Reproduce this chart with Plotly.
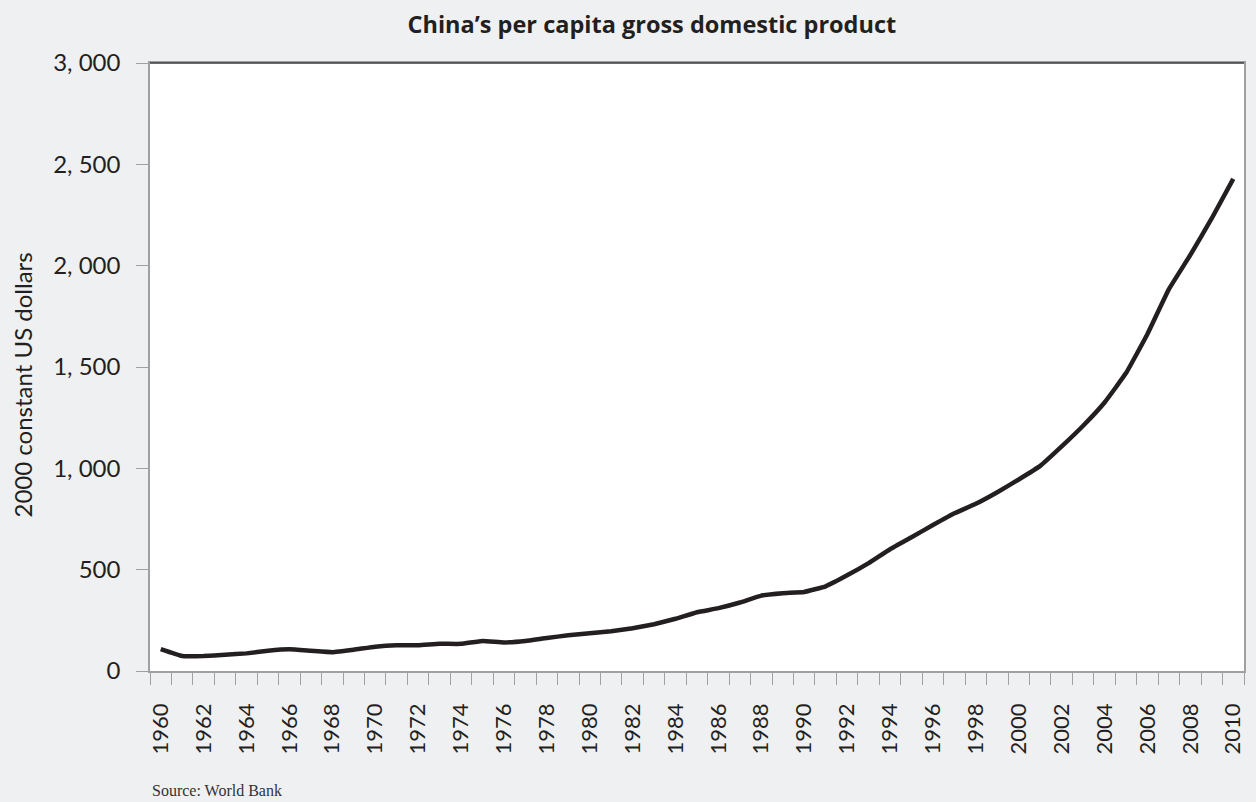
import plotly.graph_objects as go

years = list(range(1960, 2011))
gdp_per_capita = [
    108, 74, 74, 80, 87, 100, 107, 100, 93, 105,
    120, 127, 127, 134, 134, 148, 141, 148, 163, 176,
    186, 196, 211, 231, 258, 290, 310, 338, 372, 384,
    390, 418, 472, 532, 601, 660, 720, 778, 825, 882,
    945, 1012, 1108, 1210, 1325, 1470, 1663, 1884, 2053, 2234,
    2428,
]
label_years = list(range(1960, 2011, 2))
y_ticks = [0, 500, 1000, 1500, 2000, 2500, 3000]
y_tick_text = ["0", "500", "1, 000", "1, 500", "2, 000", "2, 500", "3, 000"]

title_text = "China’s per capita gross domestic product"
y_title = "2000 constant US dollars"
source_text = "Source: World Bank"

bg = "#EFF0F2"
axis_gray = "#A0A0A0"
text_color = "#231F20"
font_family = "Lato"

fig = go.Figure()
fig.add_trace(go.Scatter(
    x=years, y=gdp_per_capita, mode="lines",
    line=dict(color=text_color, width=4.5, shape="spline", smoothing=0.3),
    showlegend=False, hoverinfo="x+y",
))

fig.update_layout(
    width=1256, height=802,
    paper_bgcolor=bg, plot_bgcolor="white",
    margin=dict(l=150, r=10, t=63, b=131),
    font=dict(family=font_family, size=24, color=text_color),
    title=dict(text="<b>" + title_text + "</b>", x=0.519, xanchor="center",
               y=0.969, yanchor="middle",
               font=dict(family="Open Sans", size=23.5, color=text_color)),
    xaxis=dict(
        range=[1959.5, 2010.5],
        tickmode="array", tickvals=label_years,
        ticktext=[str(y) for y in label_years],
        tickangle=-90, ticks="outside", ticklen=22, tickcolor="rgba(0,0,0,0)",
        showgrid=False, zeroline=False,
        showline=True, linecolor=axis_gray, linewidth=1.5, mirror=True,
        minor=dict(tickmode="array",
                   tickvals=[y - 0.5 for y in years] + [years[-1] + 0.5],
                   ticks="outside", ticklen=12, tickcolor=axis_gray, tickwidth=1.2,
                   showgrid=False),
        tickfont=dict(family=font_family, size=22),
    ),
    yaxis=dict(
        range=[0, 3000],
        tickmode="array", tickvals=y_ticks, ticktext=y_tick_text,
        ticks="outside", ticklen=12, tickcolor=axis_gray, tickwidth=1.2,
        showgrid=False, zeroline=False,
        showline=True, linecolor=axis_gray, linewidth=1.5, mirror=True,
        ticklabelstandoff=11,
        tickfont=dict(family=font_family, size=24),
    ),
    shapes=[dict(type="line", xref="paper", yref="paper", x0=0, x1=1, y0=1, y1=1,
                 line=dict(color="#3A3A3A", width=1.5))],
    annotations=[
        dict(
            text=y_title, xref="paper", yref="paper",
            x=-128 / 1096, y=0.47, xanchor="center", yanchor="middle",
            textangle=-90, showarrow=False,
            font=dict(family=font_family, size=24, color=text_color),
        ),
        dict(
            text=source_text, xref="paper", yref="paper",
            x=0, y=-0.2138, xanchor="left", yanchor="bottom", showarrow=False,
            font=dict(family="Liberation Serif", size=16, color="#333333"),
        ),
    ],
)

fig.write_html(
    "out.html",
    config={"displayModeBar": False},
    post_script="document.body.style.margin='0';document.body.style.background='#EFF0F2';",
)
